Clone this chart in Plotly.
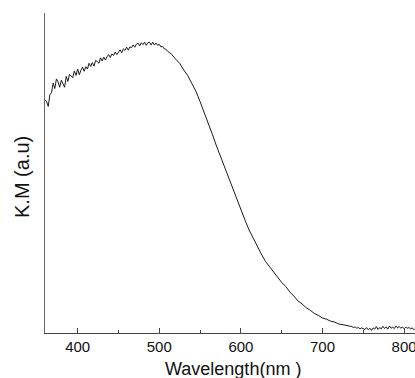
import plotly.graph_objects as go

# Wavelength (nm) and Kubelka-Munk values (arbitrary units, 0-100 scale)
wl_rise = [360, 362, 364, 366, 368, 370, 372, 374, 376, 378, 380, 382, 384, 386, 388, 390,
           392, 394, 396, 398, 400, 402, 404, 406, 408, 410, 412, 414, 416, 418, 420, 422,
           424, 426, 428, 430, 432, 434, 436, 438, 440, 442, 444, 446, 448, 450, 452, 454,
           456, 458, 460, 462, 464, 466, 468, 470, 472, 474, 476, 478, 480, 482, 484, 486,
           488, 490, 492, 494, 496, 498, 500, 502, 504, 506, 508, 510]
km_rise = [72.9, 72.3, 70.8, 74.5, 75.1, 78.1, 76.4, 79.4, 78.5, 76.8, 79.0, 77.8, 76.8, 80.2,
           78.6, 80.8, 80.4, 79.8, 81.9, 80.5, 82.5, 80.7, 82.1, 83.1, 81.8, 83.2, 82.5, 84.3,
           83.3, 84.5, 83.4, 85.2, 84.8, 84.3, 86.0, 85.0, 86.2, 85.3, 86.3, 87.0, 86.1, 87.2,
           86.7, 87.8, 87.0, 87.7, 88.5, 87.6, 88.8, 88.3, 89.3, 88.4, 89.4, 89.2, 90.0, 89.3,
           90.3, 90.6, 89.7, 90.7, 90.1, 90.9, 89.9, 90.7, 90.9, 90.0, 90.9, 90.0, 90.6, 89.9,
           90.2, 89.4, 89.6, 88.8, 88.7, 88.1]

wl_fall = [515, 520, 525, 530, 535, 540, 545, 550, 555, 560, 565, 570, 575, 580, 585, 590,
           595, 600, 605, 610, 615, 620, 625, 630, 635, 640, 645, 650, 655, 660, 665, 670,
           675, 680, 685, 690, 695, 700, 705, 710, 715, 720, 725, 730]
km_fall = [87.1, 85.6, 84.3, 82.2, 80.4, 77.9, 75.5, 72.3, 69.1, 65.4, 62.1, 58.5, 55.2, 51.5,
           48.3, 44.7, 41.6, 38.2, 35.3, 32.2, 29.6, 26.8, 24.7, 22.4, 20.8, 18.9, 17.5, 15.8,
           14.5, 12.8, 11.5, 10.0, 9.1, 7.9, 7.1, 6.1, 5.5, 4.7, 4.3, 3.7, 3.4, 2.8, 2.6, 2.2]

wl_tail = [734, 736, 738, 740, 742, 744, 746, 748, 750, 752, 754, 756, 758, 760, 762, 764,
           766, 768, 770, 772, 774, 776, 778, 780, 782, 784, 786, 788, 790, 792, 794, 796,
           798, 800, 802, 804, 806, 808, 810, 812, 813]
km_tail = [2.1, 2.0, 1.7, 1.9, 1.5, 1.7, 1.3, 1.6, 1.4, 1.1, 1.7, 1.0, 1.5, 0.8, 1.6, 1.2,
           2.0, 1.1, 1.7, 1.3, 2.1, 1.4, 1.9, 1.2, 2.2, 1.5, 1.8, 1.4, 2.2, 1.6, 2.0, 1.5,
           1.9, 1.3, 1.8, 1.5, 1.7, 1.3, 1.6, 1.0, 1.2]

x_ticks = [400, 500, 600, 700, 800]
x_minor = [450, 550, 650, 750]
x_title = "Wavelength(nm )"
y_title = "K.M (a.u)"

wavelength = wl_rise + wl_fall + wl_tail
km = km_rise + km_fall + km_tail

fig = go.Figure()
fig.add_trace(go.Scatter(x=wavelength, y=km, mode="lines",
                         line=dict(color="#1a1a1a", width=1), showlegend=False))

axis_col = "#444444"
fig.update_layout(
    width=415, height=378,
    margin=dict(l=45, r=0, t=13, b=45, autoexpand=False),
    paper_bgcolor="white", plot_bgcolor="white",
    font=dict(family="Liberation Sans, Arial, sans-serif", color="#111111"),
    xaxis=dict(range=[360, 813.3], showgrid=False, zeroline=False,
               showline=True, linecolor=axis_col, linewidth=1,
               tickmode="array", tickvals=x_ticks, ticktext=[str(t) for t in x_ticks],
               ticks="inside", ticklen=5, tickcolor=axis_col, tickwidth=1,
               minor=dict(ticks="inside", ticklen=3, tickcolor=axis_col,
                          tickvals=x_minor, showgrid=False),
               tickfont=dict(size=15, color="#111111"),
               ticklabeloverflow="allow", automargin=False),
    yaxis=dict(range=[0, 100], showgrid=False, zeroline=False,
               showline=True, linecolor="#666666", linewidth=1,
               showticklabels=False, ticks="", automargin=False),
    annotations=[
        dict(text=x_title, xref="x", yref="paper", x=590, y=0,
             yanchor="middle", xanchor="center", yshift=-36, showarrow=False,
             font=dict(size=18, color="#111111")),
        dict(text=y_title, xref="paper", yref="paper", x=0, y=0.4875,
             xanchor="center", yanchor="middle", xshift=-23, textangle=-90,
             showarrow=False, font=dict(size=20, color="#111111")),
    ],
)

fig.write_html("out.html", config={"displayModeBar": False},
               post_script="document.body.style.margin='0';document.body.style.padding='0';")
